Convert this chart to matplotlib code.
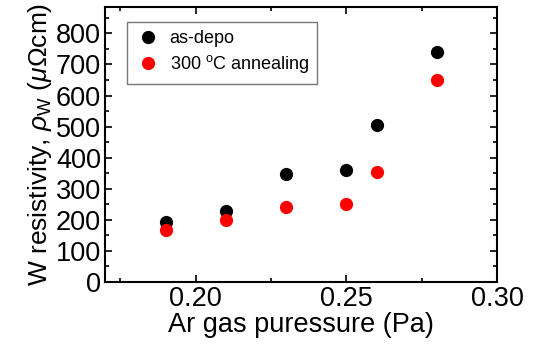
import matplotlib
matplotlib.use("Agg")
import matplotlib.pyplot as plt
from matplotlib.ticker import MultipleLocator

plt.rcParams['font.family'] = ['Liberation Sans', 'DejaVu Sans']
plt.rcParams['mathtext.fontset'] = 'custom'
plt.rcParams['mathtext.rm'] = 'Liberation Sans'
plt.rcParams['mathtext.it'] = 'Liberation Sans:italic'

pressure = [0.19, 0.21, 0.23, 0.25, 0.26, 0.28]
as_depo = [192, 230, 348, 360, 505, 740]
annealed = [167, 199, 241, 250, 355, 650]

fig = plt.figure(figsize=(5.37, 3.46), dpi=100)
ax = fig.add_axes([0.196, 0.185, 0.73, 0.795])

ax.plot(pressure, as_depo, "o", color="black", markersize=8.5, label="as-depo")
ax.plot(pressure, annealed, "o", color="red", markersize=8.5, label="300 $^{\\rm o}$C annealing")

ax.set_xlim(0.17, 0.30)
ax.set_ylim(0, 885)
ax.xaxis.set_major_locator(MultipleLocator(0.05))
ax.xaxis.set_minor_locator(MultipleLocator(0.025))
ax.yaxis.set_major_locator(MultipleLocator(100))
ax.yaxis.set_minor_locator(MultipleLocator(50))
ax.set_xticks([0.20, 0.25, 0.30])
ax.set_xticklabels(["0.20", "0.25", "0.30"])
ax.tick_params(which="both", direction="in", top=True, right=True, width=1.2, labelsize=19.5, pad=3)
ax.tick_params(which="major", length=5)
ax.tick_params(which="minor", length=3)
for s in ax.spines.values():
    s.set_linewidth(1.5)

ax.set_xlabel("Ar gas puressure (Pa)", fontsize=19.5, labelpad=0)
ax.set_ylabel("W resistivity, $\\rho_{\\rm W}$ ($\\mu\\Omega$cm)", fontsize=19, labelpad=1)

leg = ax.legend(loc="upper left", fontsize=13, frameon=True, fancybox=False,
                edgecolor="#555555", handletextpad=0.5, borderpad=0.45,
                labelspacing=0.35, borderaxespad=0, handlelength=1.4,
                bbox_to_anchor=(0.056, 0.945))
leg.get_frame().set_linewidth(1.0)

fig.savefig("out.png", dpi=100)
